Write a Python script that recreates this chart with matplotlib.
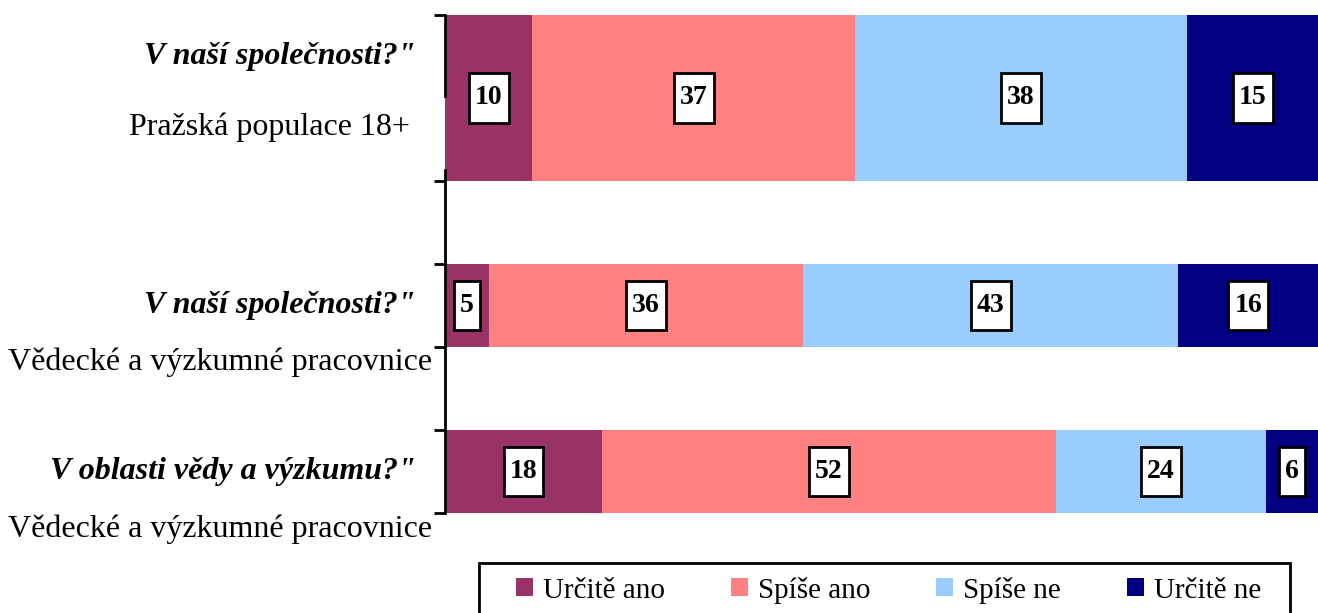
import matplotlib
matplotlib.use("Agg")
import matplotlib.pyplot as plt
from matplotlib.path import Path
from matplotlib.patches import Rectangle

# data
answers = ["Určitě ano", "Spíše ano", "Spíše ne", "Určitě ne"]
colors = ["#993366", "#FF8080", "#99CCFF", "#000080"]
questions = ['V naší společnosti?"', 'V naší společnosti?"', 'V oblasti vědy a výzkumu?"']
groups = ["Pražská populace 18+", "Vědecké a výzkumné pracovnice", "Vědecké a výzkumné pracovnice"]
values = [
    [10, 37, 38, 15],
    [5, 36, 43, 16],
    [18, 52, 24, 6],
]
# slot layout of the original sheet (6 category slots, first bar spans two)
bar_pos = [1.0, 3.5, 5.5]
bar_height = [2.0, 1.0, 1.0]

plt.rcParams["font.family"] = ["Liberation Serif", "DejaVu Serif"]


def tall_box(x0, y0, width, height, mutation_size):
    # white label box: narrow side padding, more on top/bottom
    px = 0.22 * mutation_size
    py = 0.44 * mutation_size
    x0, x1 = x0 - px, x0 + width + px
    y0, y1 = y0 - py, y0 + height + py
    verts = [(x0, y0), (x1, y0), (x1, y1), (x0, y1), (x0, y0)]
    return Path(verts, closed=True)


fig = plt.figure(figsize=(13.18, 6.13), dpi=100)
ax = fig.add_axes([445 / 1318, 1 - 513 / 613, 1 - 445 / 1318, (513 - 15) / 613])

for i, row in enumerate(values):
    left = 0
    for j, v in enumerate(row):
        ax.barh(bar_pos[i], v, height=bar_height[i], left=left, color=colors[j],
                edgecolor="none", label=answers[j] if i == 0 else None)
        ax.text(left + v / 2, bar_pos[i], str(v), ha="center", va="center",
                fontsize=20, fontweight="bold",
                bbox=dict(boxstyle=tall_box, facecolor="white", edgecolor="black", linewidth=2))
        left += v

ax.set_xlim(0, 100)
ax.set_ylim(6, 0)
ax.set_xticks([])
for s in ["top", "right", "bottom", "left"]:
    ax.spines[s].set_visible(False)
# left axis line, interrupted behind the first group label
ax.axvline(0, ymin=1 - 0.98 / 6, ymax=1, color="black", lw=2, clip_on=False)
ax.axvline(0, ymin=0, ymax=1 - 1.87 / 6, color="black", lw=2, clip_on=False)
ax.set_yticks([0, 2, 3, 4, 5, 6])
ax.set_yticklabels([])
ax.tick_params(axis="y", direction="out", length=8, width=2)

# category labels
q_y = [0.5, 3.5, 5.5]
g_y = [1.35, 4.18, 6.2]
g_x = [-0.040, -0.015, -0.015]
for i in range(3):
    ax.text(-0.034, 1 - q_y[i] / 6, questions[i], transform=ax.transAxes,
            ha="right", va="center", fontsize=23, fontweight="bold", style="italic")
    ax.text(g_x[i], 1 - g_y[i] / 6, groups[i], transform=ax.transAxes,
            ha="right", va="center", fontsize=23)

fig.legend(loc="center left", bbox_to_anchor=(516 / 1318, 1 - 590 / 613), ncol=4,
           frameon=False, fontsize=21,
           handlelength=0.59, handleheight=0.59, handletextpad=0.34, columnspacing=2.25,
           borderpad=0, borderaxespad=0)
fig.patches.append(Rectangle((479 / 1318, -0.02), (1290 - 479) / 1318, 0.02 + (613 - 563) / 613,
                             transform=fig.transFigure, fill=False, edgecolor="black", lw=2))

fig.savefig("out.png", dpi=100)
